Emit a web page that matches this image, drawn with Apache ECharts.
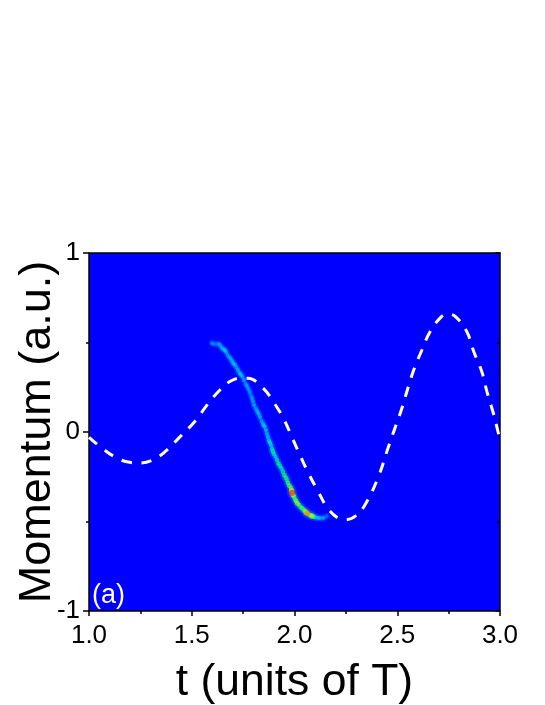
<!DOCTYPE html>
<html>
<head>
<meta charset="utf-8">
<script src="https://cdn.jsdelivr.net/npm/echarts@6/dist/echarts.min.js"></script>
<style>
  html, body { margin: 0; padding: 0; background: #fff; }
  #main { width: 545px; height: 705px; }
</style>
</head>
<body>
<div id="main"></div>
<script>
// dashed field curve
const fieldT = [1.0, 1.063, 1.127, 1.19, 1.25, 1.31, 1.37, 1.44, 1.516, 1.574, 1.637, 1.69, 1.735, 1.774, 1.847, 1.905, 1.95, 1.988, 2.027, 2.07, 2.114, 2.158, 2.21, 2.245, 2.29, 2.34, 2.406, 2.455, 2.489, 2.523, 2.552, 2.582, 2.62, 2.659, 2.713, 2.747, 2.786, 2.839, 2.873, 2.912, 2.937, 2.966, 2.98, 3.0];
const fieldP = [-0.03, -0.09, -0.14, -0.168, -0.173, -0.157, -0.11, -0.03, 0.06, 0.15, 0.235, 0.285, 0.3, 0.3, 0.245, 0.155, 0.067, -0.03, -0.13, -0.235, -0.33, -0.42, -0.48, -0.49, -0.475, -0.413, -0.257, -0.09, 0.022, 0.134, 0.246, 0.352, 0.458, 0.559, 0.642, 0.659, 0.642, 0.559, 0.447, 0.335, 0.223, 0.112, 0.05, -0.045];

// electron streak: time, momentum, relative intensity
const streakT = [1.599, 1.608, 1.618, 1.628, 1.637, 1.645, 1.652, 1.66, 1.667, 1.674, 1.681, 1.689, 1.696, 1.703, 1.71, 1.718, 1.725, 1.733, 1.74, 1.747, 1.754, 1.762, 1.769, 1.776, 1.783, 1.788, 1.793, 1.798, 1.803, 1.811, 1.818, 1.825, 1.832, 1.84, 1.847, 1.854, 1.861, 1.866, 1.871, 1.876, 1.881, 1.886, 1.891, 1.895, 1.9, 1.908, 1.915, 1.922, 1.929, 1.937, 1.944, 1.951, 1.959, 1.963, 1.968, 1.975, 1.983, 1.986, 1.988, 1.993, 1.998, 2.003, 2.007, 2.014, 2.022, 2.029, 2.036, 2.044, 2.051, 2.056, 2.061, 2.068, 2.075, 2.08, 2.085, 2.092, 2.1, 2.11, 2.119, 2.129, 2.139, 2.149, 2.158];
const streakP = [0.497, 0.49, 0.492, 0.493, 0.486, 0.472, 0.464, 0.458, 0.447, 0.431, 0.419, 0.411, 0.397, 0.382, 0.374, 0.362, 0.346, 0.329, 0.318, 0.308, 0.291, 0.27, 0.257, 0.24, 0.223, 0.205, 0.19, 0.172, 0.151, 0.132, 0.117, 0.103, 0.084, 0.062, 0.045, 0.032, 0.011, -0.01, -0.028, -0.048, -0.061, -0.075, -0.095, -0.11, -0.123, -0.138, -0.156, -0.176, -0.19, -0.204, -0.223, -0.243, -0.257, -0.268, -0.285, -0.3, -0.313, -0.327, -0.341, -0.352, -0.363, -0.376, -0.385, -0.398, -0.408, -0.418, -0.425, -0.434, -0.441, -0.448, -0.453, -0.46, -0.464, -0.467, -0.469, -0.473, -0.475, -0.479, -0.48, -0.481, -0.48, -0.476, -0.469];
const streakI = [0.25, 0.18, 0.2, 0.22, 0.3, 0.28, 0.3, 0.4, 0.32, 0.25, 0.3, 0.3, 0.35, 0.38, 0.3, 0.25, 0.35, 0.4, 0.35, 0.3, 0.32, 0.25, 0.3, 0.3, 0.28, 0.22, 0.3, 0.3, 0.35, 0.28, 0.35, 0.38, 0.35, 0.3, 0.38, 0.42, 0.38, 0.33, 0.4, 0.45, 0.42, 0.4, 0.5, 0.55, 0.45, 0.42, 0.5, 0.58, 0.5, 0.45, 0.55, 0.6, 0.55, 0.5, 0.6, 0.65, 0.62, 0.8, 0.95, 0.7, 0.6, 0.55, 0.65, 0.68, 0.6, 0.55, 0.62, 0.58, 0.65, 0.7, 0.9, 0.55, 0.6, 0.5, 0.75, 0.55, 0.4, 0.3, 0.35, 0.22, 0.3, 0.15, 0.15];

const xTicks = ["1.0", "1.5", "2.0", "2.5", "3.0"];
const yTicks = ["-1", "0", "1"];

const font = "Liberation Sans";
const myChart = echarts.init(document.getElementById("main"), null, { renderer: "canvas" });

const field = fieldT.map((t, i) => [t, fieldP[i]]);
// brightest spots are drawn last so they stay on top
const streak = streakT.map((t, i) => [t, streakP[i], streakI[i]]).sort((a, b) => a[2] - b[2]);

const tickLine = { lineStyle: { color: "#000", width: 1.5 } };

myChart.setOption({
  animation: false,
  backgroundColor: "#fff",
  grid: {
    left: 89, top: 253, width: 411, height: 358, outerBoundsMode: "none",
    show: true, backgroundColor: "#0000ff", borderWidth: 0
  },
  xAxis: [
    {
      type: "value", min: 1, max: 3, interval: 0.5,
      name: "t (units of T)", nameLocation: "middle", nameGap: 49, nameMoveOverlap: false,
      nameTextStyle: { fontFamily: font, fontSize: 44.5, color: "#000" },
      axisLine: { show: true, onZero: false, lineStyle: { color: "#000", width: 1.5 } },
      axisTick: { show: true, length: 5, ...tickLine },
      minorTick: { show: true, splitNumber: 2, length: 3, ...tickLine },
      splitLine: { show: false },
      axisLabel: {
        fontFamily: font, fontSize: 26, color: "#000", margin: 12,
        formatter: v => xTicks[Math.round((v - 1) / 0.5)]
      }
    },
    {
      type: "value", min: 1, max: 3, interval: 0.5, position: "top",
      axisLine: { show: true, onZero: false, lineStyle: { color: "#000", width: 1.5 } },
      axisTick: { show: false }, minorTick: { show: false },
      splitLine: { show: false }, axisLabel: { show: false }
    }
  ],
  yAxis: [
    {
      type: "value", min: -1, max: 1, interval: 1,
      name: "Momentum (a.u.)", nameLocation: "middle", nameGap: 29, nameMoveOverlap: false,
      nameTextStyle: { fontFamily: font, fontSize: 45, color: "#000" },
      axisLine: { show: true, onZero: false, lineStyle: { color: "#000", width: 1.5 } },
      axisTick: { show: true, length: 6, ...tickLine },
      minorTick: { show: true, splitNumber: 2, length: 3, ...tickLine },
      splitLine: { show: false },
      axisLabel: {
        fontFamily: font, fontSize: 26, color: "#000", margin: 9, padding: [8, 0, 0, 0],
        formatter: v => yTicks[Math.round(v + 1)]
      }
    },
    {
      // right frame edge: inward ticks, no labels
      type: "value", min: -1, max: 1, interval: 1, position: "right",
      axisLine: { show: true, onZero: false, lineStyle: { color: "#000", width: 1.5 } },
      axisTick: { show: true, inside: true, length: 5, ...tickLine },
      minorTick: { show: true, splitNumber: 2, length: 3, ...tickLine },
      splitLine: { show: false }, axisLabel: { show: false }
    }
  ],
  visualMap: {
    show: false, type: "continuous", min: 0, max: 1, dimension: 2, seriesIndex: 1,
    inRange: { color: ["#0000ff", "#0060ff", "#00b0ff", "#00e0e0", "#00ff60", "#c0ff00", "#ffc000", "#ff0000"] }
  },
  series: [
    {
      // soft halo around the streak
      type: "scatter", data: streak, symbol: "circle", symbolSize: v => 5 + 6 * v[2], silent: true,
      itemStyle: { color: "#0058ff", opacity: 0.4 }, z: 2
    },
    {
      type: "scatter", data: streak, symbol: "circle", symbolSize: v => 3 + 3 * v[2], silent: true,
      itemStyle: { opacity: 0.7 }, z: 3
    },
    {
      type: "line", data: field, showSymbol: false, smooth: 0.4, silent: true,
      lineStyle: { color: "#fff", width: 3, type: [10.5, 9.5], cap: "butt" }, z: 4
    }
  ],
  graphic: [
    {
      type: "text", left: 92, top: 582, z: 10,
      style: { text: "(a)", fill: "#fff", font: "27px Liberation Sans" }
    }
  ]
});
</script>
</body>
</html>
